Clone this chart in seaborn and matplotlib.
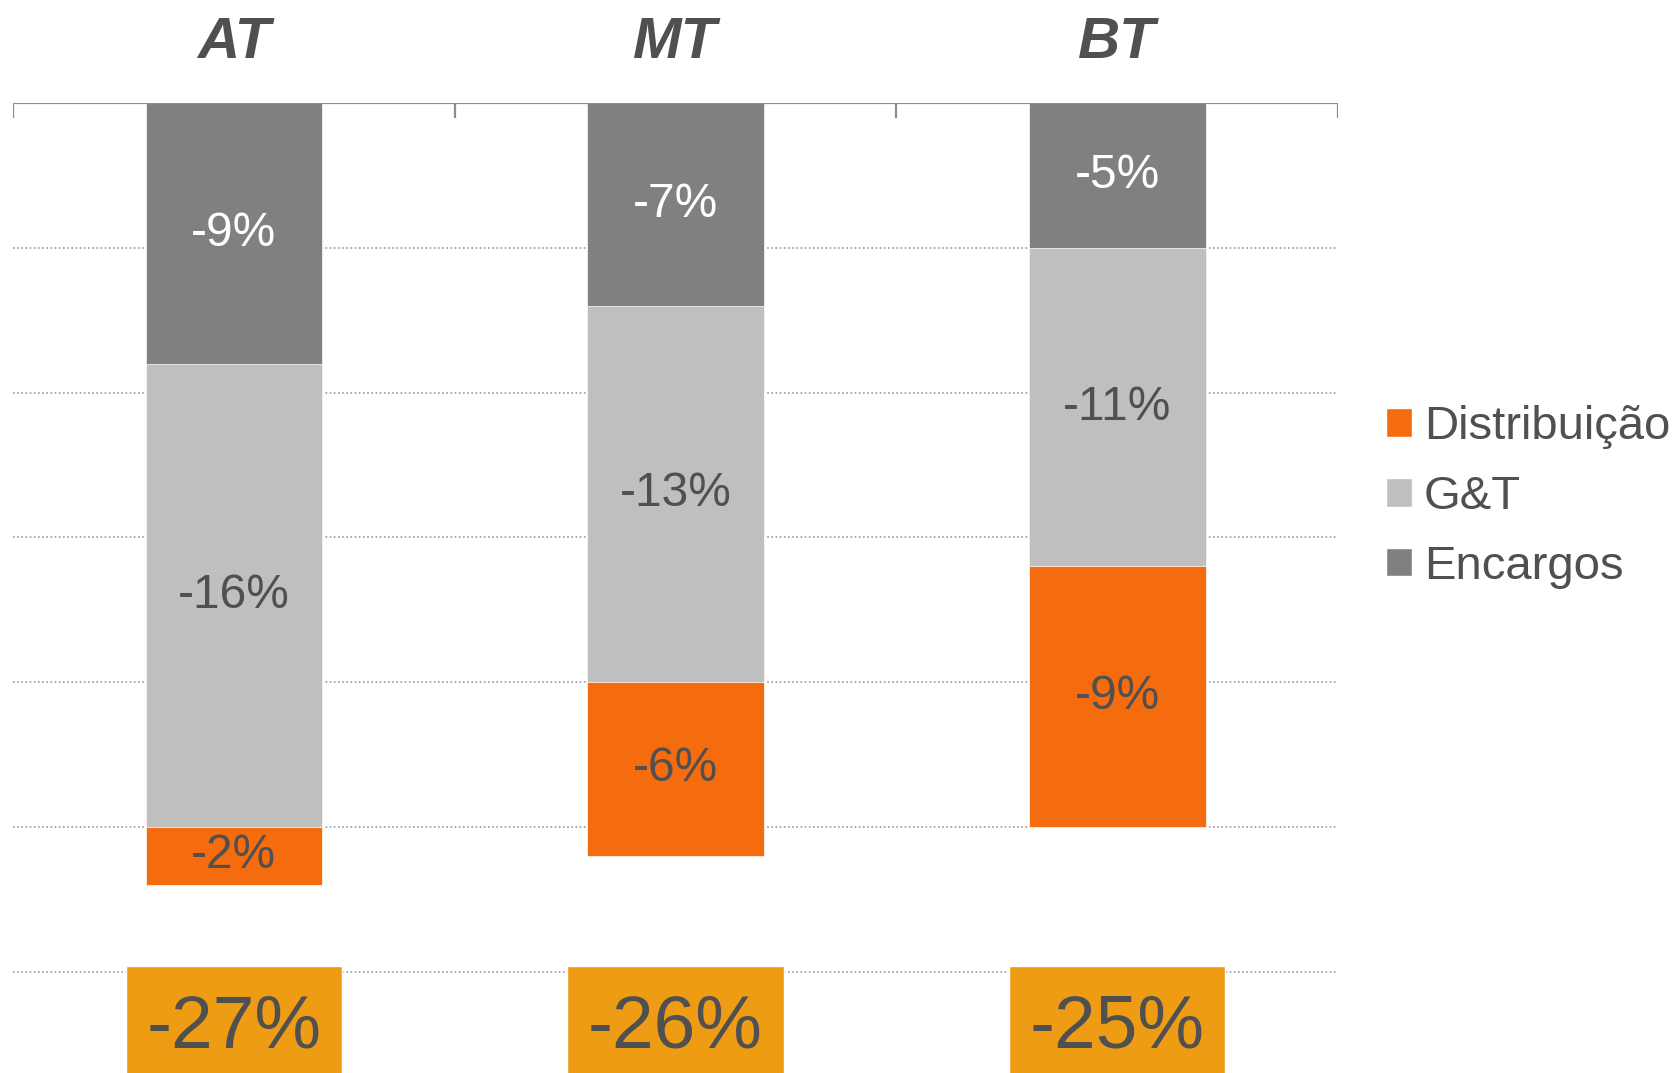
import matplotlib
matplotlib.use("Agg")
import matplotlib.pyplot as plt
import seaborn as sns
import pandas as pd
from matplotlib.patches import Patch

# data (percent change per component)
categories = ["AT", "MT", "BT"]
encargos = [-9, -7, -5]
gt = [-16, -13, -11]
distribuicao = [-2, -6, -9]
totals = ["-27%", "-26%", "-25%"]

series_names = ["Distribuição", "G&T", "Encargos"]
colors = {"Distribuição": "#F46C0E", "G&T": "#BFBFBF", "Encargos": "#808080"}
label_colors = {"Distribuição": "#505050", "G&T": "#505050", "Encargos": "white"}
total_color = "#EE9C14"
text_color = "#505050"

sns.set_style("white")
plt.rcParams["font.family"] = ["Liberation Sans", "DejaVu Sans"]

df = pd.DataFrame({"cat": categories, "Encargos": encargos,
                   "G&T": gt, "Distribuição": distribuicao})
df["cum_enc"] = df["Encargos"]
df["cum_gt"] = df["cum_enc"] + df["G&T"]
df["cum_dist"] = df["cum_gt"] + df["Distribuição"]

fig = plt.figure(figsize=(16.77, 10.73), dpi=100)
ax = fig.add_axes([13 / 1677, 0.0, (1338 - 13) / 1677, 1 - 103 / 1073])

# dotted gridlines behind the bars
for g in range(-5, -31, -5):
    ax.axhline(g, color="#9a9a9a", lw=1.2, ls=(0, (1, 1.5)), zorder=0)

# stacked bars drawn as overlapping cumulative bars
for col, name in [("cum_dist", "Distribuição"), ("cum_gt", "G&T"), ("cum_enc", "Encargos")]:
    sns.barplot(data=df, x="cat", y=col, color=colors[name], width=0.4,
                saturation=1, edgecolor="white", linewidth=0.5, ax=ax, zorder=2)

# segment labels
for i in range(len(categories)):
    segs = [("Encargos", 0, df["cum_enc"][i]),
            ("G&T", df["cum_enc"][i], df["cum_gt"][i]),
            ("Distribuição", df["cum_gt"][i], df["cum_dist"][i])]
    for name, top, bot in segs:
        val = df[name][i]
        ax.text(i, (top + bot) / 2, f"{val}%", ha="center", va="center",
                fontsize=34.5, color=label_colors[name], zorder=3)

# total boxes at the bottom
ax.bar(range(len(categories)), -3.9, bottom=-29.8, width=0.49,
       color=total_color, zorder=3, clip_on=False)
for i, t in enumerate(totals):
    ax.text(i, -31.95, t, ha="center", va="center", fontsize=54,
            color=text_color, zorder=4)

# top axis line with category separators
ax.axhline(0, color="#8c8c8c", lw=1.6, zorder=4)
ax.vlines([-0.5, 0.5, 1.5, 2.5], -0.52, 0, color="#8c8c8c", lw=1.6, zorder=4)

# category titles above
for i, c in enumerate(categories):
    ax.text(i, 2.08, c, ha="center", va="center", fontsize=42,
            fontweight="bold", fontstyle="italic", color=text_color, clip_on=False)

ax.set_xlim(-0.5, 2.5)
ax.set_ylim(-33.5, 0)
ax.set_xlabel("")
ax.set_ylabel("")
ax.set_xticks([])
ax.set_yticks([])
sns.despine(ax=ax, left=True, bottom=True)
ax.spines["top"].set_visible(False)
ax.spines["right"].set_visible(False)

handles = [Patch(facecolor=colors[n], label=n) for n in series_names]
leg = fig.legend(handles=handles, loc="center left", bbox_to_anchor=(1386 / 1677, 1 - 497 / 1073),
                 frameon=False, fontsize=34, handlelength=0.55, handleheight=0.55,
                 handletextpad=0.25, labelspacing=0.55, borderpad=0, borderaxespad=0)
for t in leg.get_texts():
    t.set_color(text_color)

fig.savefig("out.png", dpi=100)
